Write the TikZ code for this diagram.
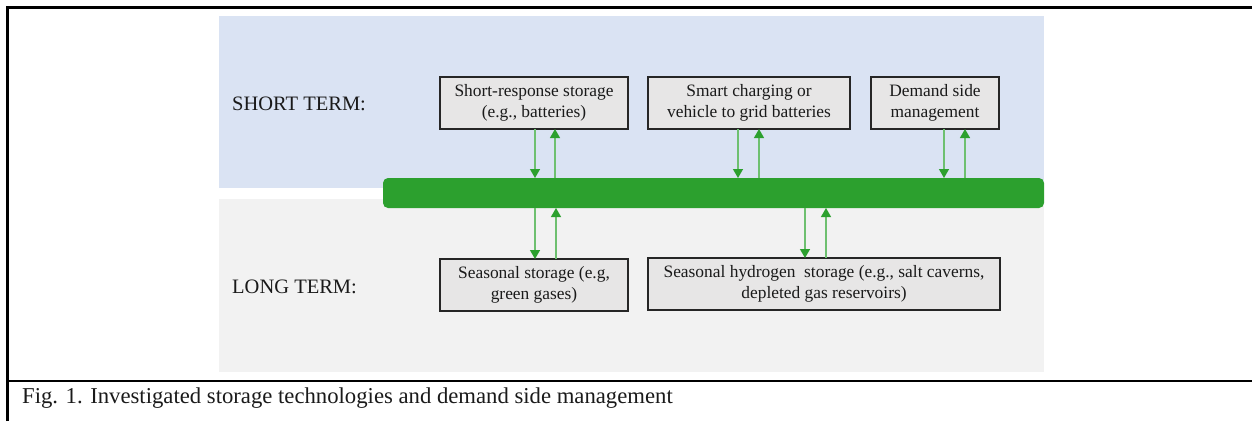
\documentclass[tikz,border=0pt]{standalone}
\usepackage{fontspec}
\setmainfont{Liberation Serif}
\usetikzlibrary{arrows.meta,calc}

\definecolor{shortbg}{RGB}{218,227,243}
\definecolor{longbg}{RGB}{242,242,242}
\definecolor{boxfill}{RGB}{231,230,230}
\definecolor{boxline}{RGB}{38,38,38}
\definecolor{busgreen}{RGB}{44,160,46}
\definecolor{shaftgreen}{RGB}{110,192,112}
\definecolor{ink}{RGB}{26,26,26}

\tikzset{
  techbox/.style={draw=boxline, line width=1.1pt, fill=boxfill, text=ink,
    minimum height=52pt, inner sep=0pt, outer sep=0pt, align=center,
    font=\fontsize{17.4}{21}\selectfont},
  termlabel/.style={anchor=base west, inner sep=0pt, text=ink,
    font=\fontsize{20.5}{24}\selectfont},
  flow/.style={draw=shaftgreen, line width=1.3pt,
    -{Triangle[width=10pt,length=9pt,color=busgreen]}},
}

\begin{document}
\begin{tikzpicture}[x=1pt,y=-1pt]
  \useasboundingbox (0,0) rectangle (1252,421);

  % outer frame and caption rule
  \draw[line width=2.5pt] (7.5,421) -- (7.5,7.5) -- (1252,7.5);
  \draw[line width=2.2pt] (7.5,381) -- (1252,381);

  % time horizon bands
  \fill[shortbg] (219,16) rectangle (1044,188);
  \fill[longbg] (219,199) rectangle (1044,372);

  \node[termlabel] (short) at (232,110) {SHORT TERM:};
  \node[termlabel] (long) at (232,293) {LONG TERM:};

  % energy bus
  \node[fill=busgreen, rounded corners=5pt, minimum width=661pt,
        minimum height=30pt, inner sep=0pt, outer sep=0pt] (bus) at (713.5,193) {};

  % short-term options
  \node[techbox, minimum width=188pt] (sr) at (534,103)
    {Short-response storage\\(e.g., batteries)};
  \node[techbox, minimum width=202pt] (sc) at (749,103)
    {Smart charging or\\vehicle to grid batteries};
  \node[techbox, minimum width=128pt] (dsm) at (935,103)
    {Demand side\\management};

  % long-term options
  \node[techbox, minimum width=188pt] (ss) at (534,285)
    {Seasonal storage (e.g,\\green gases)};
  \node[techbox, minimum width=352pt] (hs) at (824,284)
    {Seasonal hydrogen~ storage (e.g., salt caverns,\\depleted gas reservoirs)};

  % exchanges with the bus
  \draw[flow] ([xshift=1pt]sr.south) -- ([xshift=1pt]sr.south |- bus.north);
  \draw[flow] ([xshift=21pt]sr.south |- bus.north) -- ([xshift=21pt]sr.south);
  \draw[flow] ([xshift=-11pt]sc.south) -- ([xshift=-11pt]sc.south |- bus.north);
  \draw[flow] ([xshift=10pt]sc.south |- bus.north) -- ([xshift=10pt]sc.south);
  \draw[flow] ([xshift=9pt]dsm.south) -- ([xshift=9pt]dsm.south |- bus.north);
  \draw[flow] ([xshift=30pt]dsm.south |- bus.north) -- ([xshift=30pt]dsm.south);

  \draw[flow] ([xshift=1pt]ss.north |- bus.south) -- ([xshift=1pt]ss.north);
  \draw[flow] ([xshift=22pt]ss.north) -- ([xshift=22pt]ss.north |- bus.south);
  \draw[flow] ([xshift=-19pt]hs.north |- bus.south) -- ([xshift=-19pt]hs.north);
  \draw[flow] ([xshift=2pt]hs.north) -- ([xshift=2pt]hs.north |- bus.south);

  % caption
  \node[anchor=base west, inner sep=0pt, text=ink, font=\fontsize{22.7}{26}\selectfont]
    (caption) at (22,403) {Fig. 1. Investigated storage technologies and demand side management};
\end{tikzpicture}
\end{document}
